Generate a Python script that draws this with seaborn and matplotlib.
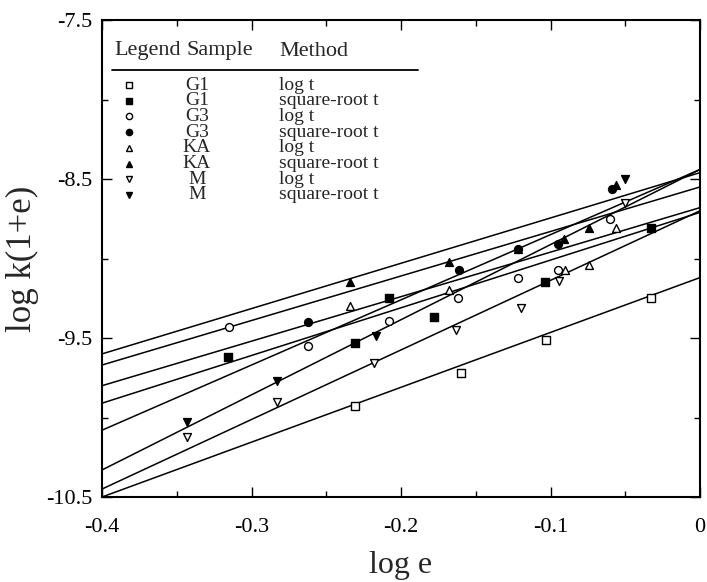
import matplotlib
matplotlib.use("Agg")
import matplotlib.pyplot as plt
import numpy as np
import pandas as pd
import seaborn as sns
from matplotlib.ticker import MultipleLocator, FixedLocator
from matplotlib.lines import Line2D

# ---- data ----
samples = ["G1", "G1", "G3", "G3", "KA", "KA", "M", "M"]
methods = ["log t", "square-root t", "log t", "square-root t",
           "log t", "square-root t", "log t", "square-root t"]

g1_log_x = [-0.231, -0.160, -0.103, -0.033]
g1_log_y = [-9.93, -9.72, -9.51, -9.25]
g1_sqrt_x = [-0.316, -0.231, -0.208, -0.178, -0.104, -0.033]
g1_sqrt_y = [-9.62, -9.53, -9.25, -9.37, -9.15, -8.81]
g3_log_x = [-0.315, -0.262, -0.208, -0.162, -0.122, -0.095, -0.060]
g3_log_y = [-9.43, -9.55, -9.39, -9.25, -9.12, -9.07, -8.75]
g3_sqrt_x = [-0.262, -0.161, -0.122, -0.095, -0.059]
g3_sqrt_y = [-9.40, -9.07, -8.94, -8.91, -8.56]
ka_log_x = [-0.234, -0.168, -0.090, -0.074, -0.056]
ka_log_y = [-9.30, -9.20, -9.07, -9.04, -8.81]
ka_sqrt_x = [-0.234, -0.168, -0.122, -0.091, -0.074, -0.056]
ka_sqrt_y = [-9.15, -9.02, -8.94, -8.88, -8.81, -8.54]
m_log_x = [-0.343, -0.283, -0.218, -0.163, -0.120, -0.094, -0.050]
m_log_y = [-10.12, -9.90, -9.66, -9.45, -9.31, -9.14, -8.65]
m_sqrt_x = [-0.343, -0.283, -0.217, -0.050]
m_sqrt_y = [-10.03, -9.77, -9.49, -8.50]

# fitted line ends (value at log e = -0.4 and at log e = 0)
line_x = [-0.4, 0.0]
line_left = [-10.50, -9.91, -9.67, -10.08, -9.80, -9.60, -10.45, -10.33]
line_right = [-9.12, -8.71, -8.55, -8.44, -8.68, -8.46, -8.70, -8.44]

xs = [g1_log_x, g1_sqrt_x, g3_log_x, g3_sqrt_x, ka_log_x, ka_sqrt_x, m_log_x, m_sqrt_x]
ys = [g1_log_y, g1_sqrt_y, g3_log_y, g3_sqrt_y, ka_log_y, ka_sqrt_y, m_log_y, m_sqrt_y]
marker_shapes = ["s", "s", "o", "o", "^", "^", "v", "v"]
marker_filled = [False, True, False, True, False, True, False, True]

x_ticks = [-0.4, -0.3, -0.2, -0.1, 0]
x_ticklabels = ["-0.4", "-0.3", "-0.2", "-0.1", "0"]
y_ticks = [-7.5, -8.5, -9.5, -10.5]
y_ticklabels = ["-7.5", "-8.5", "-9.5", "-10.5"]

# ---- figure ----
sns.set_theme(style="ticks")
plt.rcParams["font.family"] = ["Liberation Serif", "DejaVu Serif"]

fig = plt.figure(figsize=(7.07, 5.82), dpi=100)
ax = fig.add_axes([102 / 707, 1 - 497 / 582, 598 / 707, 477 / 582])

for i in range(8):
    ldf = pd.DataFrame({"x": line_x, "y": [line_left[i], line_right[i]]})
    sns.lineplot(data=ldf, x="x", y="y", ax=ax, color="black", lw=1.1,
                 legend=False, zorder=2)
for i in range(8):
    pdf = pd.DataFrame({"x": xs[i], "y": ys[i]})
    sns.scatterplot(data=pdf, x="x", y="y", ax=ax, marker=marker_shapes[i],
                    s=32, facecolor="black" if marker_filled[i] else "white",
                    edgecolor="black", linewidth=1.0, zorder=3, legend=False)

ax.set_xlim(-0.4, 0)
ax.set_ylim(-10.5, -7.5)
ax.xaxis.set_major_locator(FixedLocator(x_ticks))
ax.set_xticklabels(x_ticklabels)
ax.xaxis.set_minor_locator(MultipleLocator(0.05))
ax.yaxis.set_major_locator(FixedLocator(y_ticks))
ax.set_yticklabels(y_ticklabels)
ax.yaxis.set_minor_locator(MultipleLocator(0.5))
ax.tick_params(which="both", direction="in", top=True, right=True,
               labelsize=16, colors="black", width=1.0)
ax.tick_params(which="major", length=7)
ax.tick_params(which="minor", length=4)
ax.tick_params(axis="x", which="major", pad=15)
ax.tick_params(axis="y", which="major", pad=7)
for sp in ax.spines.values():
    sp.set_visible(True)
    sp.set_linewidth(1.5)
    sp.set_color("black")

ax.set_xlabel("log e", fontsize=23, labelpad=10)
ax.set_ylabel("log k(1+e)", fontsize=25, labelpad=5)

# ---- table-like legend ----
def fx(px):
    return (px - 102) / 598

def fy(py):
    return (497 - py) / 477

ax.text(fx(114), fy(51), "Legend", transform=ax.transAxes, fontsize=16,
        va="center", ha="left")
ax.text(fx(186), fy(51), "Sample", transform=ax.transAxes, fontsize=16,
        va="center", ha="left")
ax.text(fx(279), fy(51), "Method", transform=ax.transAxes, fontsize=16,
        va="center", ha="left")
ax.add_line(Line2D([fx(112), fx(418)], [fy(70), fy(70)], transform=ax.transAxes,
                   color="black", lw=1.3))
for i in range(8):
    yy = fy(85 + 15.7 * i)
    ax.plot([fx(129)], [yy], transform=ax.transAxes, marker=marker_shapes[i],
            ms=4.5, mfc="black" if marker_filled[i] else "white", mec="black",
            mew=1.0, ls="none")
    ax.text(fx(197), yy, samples[i], transform=ax.transAxes, fontsize=14,
            va="center", ha="center")
    ax.text(fx(279), yy, methods[i], transform=ax.transAxes, fontsize=14,
            va="center", ha="left")

fig.savefig("out.png", dpi=100, facecolor="white")
